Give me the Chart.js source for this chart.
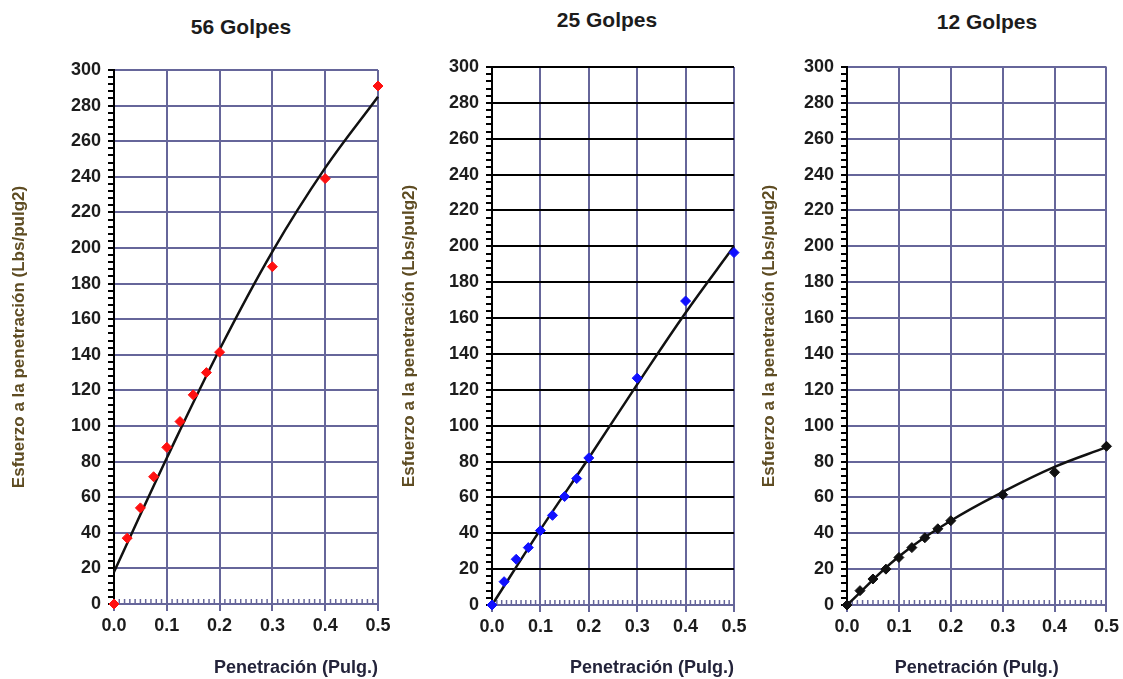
<!DOCTYPE html>
<html>
<head>
<meta charset="utf-8">
<script src="https://cdn.jsdelivr.net/npm/chart.js@4.4.1/dist/chart.umd.min.js"></script>
<style>
  body { margin:0; background:#fff; width:1123px; height:679px; position:relative; overflow:hidden; font-family:"Liberation Sans", Arial, sans-serif; }
  .box { position:absolute; top:0; height:679px; }
  .ttl { position:absolute; font-weight:bold; font-size:21px; color:#1c1c1c; transform:translate(-50%,-50%); white-space:nowrap; }
</style>
</head>
<body>
<div class="ttl" style="left:241px; top:27px;">56 Golpes</div>
<div class="ttl" style="left:607px; top:20px;">25 Golpes</div>
<div class="ttl" style="left:987px; top:22px;">12 Golpes</div>
<div class="box" style="left:0px; width:400px;"><canvas id="chart56"></canvas></div>
<div class="box" style="left:390px; width:370px;"><canvas id="chart25"></canvas></div>
<div class="box" style="left:750px; width:373px;"><canvas id="chart12"></canvas></div>
<script>
/* Data */
const xPen = [0, 0.025, 0.05, 0.075, 0.1, 0.125, 0.15, 0.175, 0.2, 0.3, 0.4, 0.5];
const golpes56 = [0, 37, 54, 71.5, 88, 102.5, 117.5, 130, 141.5, 189.5, 239, 291];
const golpes25 = [0, 13, 25.5, 32, 41.5, 50, 60.5, 70.5, 82, 126.5, 169.5, 196.5];
const golpes12 = [0, 8, 14.5, 20, 26.5, 32, 37.5, 42.5, 47, 61.5, 74, 88.5];

// trend curves, read at every 0.1
const xFit = [0, 0.1, 0.2, 0.3, 0.4, 0.5];
const fit56 = [18, 82, 143, 198, 245, 285];
const fit25 = [0, 42, 82, 123, 163, 200];
const fit12 = [0, 27, 47, 63, 77, 88];

// axis ticks
const yRange = [0, 300];
const yMajor = 20, yMinor = 4;
const xRange = [0, 0.5];
const xMajor = 0.1, xMinor = 0.01;

const xTitle = "Penetración (Pulg.)";
const yTitle = "Esfuerzo a la penetración (Lbs/pulg2)";

const SLATE = "#66669a";
const FONT = "'Liberation Sans', Arial, sans-serif";

function isMajorX(v){ return Math.round(v/xMinor) % Math.round(xMajor/xMinor) === 0; }
function isMajorY(v){ return Math.round(v) % yMajor === 0; }

/* short ticks pointing up into the plot on the x axis */
const minorXTicks = {
  id: "minorXTicks",
  beforeDatasetsDraw(chart){
    const { ctx, chartArea, scales:{ x } } = chart;
    ctx.save();
    ctx.strokeStyle = SLATE;
    ctx.lineWidth = 1.5;
    x.ticks.forEach(t => {
      if(isMajorX(t.value)) return;
      const px = x.getPixelForValue(t.value);
      ctx.beginPath();
      ctx.moveTo(px, chartArea.bottom);
      ctx.lineTo(px, chartArea.bottom - 5);
      ctx.stroke();
    });
    ctx.restore();
  }
};

function pts(xs, ys){ return xs.map((x,i) => ({ x:x, y:ys[i] })); }

function makeChart(id, o){
  const ctx = document.getElementById(id).getContext("2d");
  return new Chart(ctx, {
    type: "scatter",
    data: {
      datasets: [{
        label: "Ensayo",
        data: pts(xPen, o.values),
        pointStyle: "rectRot",
        pointRadius: 5,
        backgroundColor: o.color,
        borderColor: o.color,
        showLine: false,
        clip: false
      },{
        label: "Tendencia",
        data: pts(xFit, o.fit),
        type: "line",
        showLine: true,
        pointRadius: 0,
        borderColor: "#111",
        borderWidth: 2.5,
        tension: 0.4,
        fill: false,
        clip: false
      }]
    },
    options: {
      responsive: true,
      maintainAspectRatio: false,
      animation: false,
      layout: { padding: { left: 9, right: o.padRight, top: o.top, bottom: 0 } },
      plugins: { legend: { display:false }, tooltip: { enabled:false } },
      scales: {
        x: {
          type: "linear",
          min: xRange[0], max: xRange[1],
          afterFit: s => { s.height = o.xHeight; },
          border: { color: SLATE, width: 2 },
          grid: {
            lineWidth: 2,
            tickLength: 7,
            color: c => isMajorX(c.tick.value) ? SLATE : "rgba(0,0,0,0)",
            tickColor: c => isMajorX(c.tick.value) ? SLATE : "rgba(0,0,0,0)"
          },
          ticks: {
            stepSize: xMinor,
            autoSkip: false,
            maxTicksLimit: 200,
            maxRotation: 0,
            padding: 4,
            color: "#1c1c1c",
            font: { family: FONT, size: 18, weight: "bold" },
            callback: v => isMajorX(v) ? v.toFixed(1) : ""
          },
          title: {
            display: true,
            text: xTitle,
            align: o.xAlign,
            color: "#23233a",
            font: { family: FONT, size: 18, weight: "bold" },
            padding: { top: 0, bottom: 0 }
          }
        },
        y: {
          min: yRange[0], max: yRange[1],
          afterFit: s => { s.width = o.yWidth; },
          border: { color: "#000", width: 2 },
          grid: {
            lineWidth: 2,
            tickLength: 6,
            color: c => {
              if(!isMajorY(c.tick.value)) return "rgba(0,0,0,0)";
              if(c.tick.value === 0) return SLATE;
              return o.hGrid;
            },
            tickColor: "#000"
          },
          ticks: {
            stepSize: yMinor,
            autoSkip: false,
            maxTicksLimit: 200,
            padding: 7,
            color: "#1c1c1c",
            font: { family: FONT, size: 18, weight: "bold" },
            callback: v => isMajorY(v) ? v : ""
          },
          title: {
            display: true,
            text: yTitle,
            color: "#5e4c22",
            font: { family: FONT, size: 17, weight: "bold" },
            padding: 0
          }
        }
      }
    },
    plugins: [minorXTicks]
  });
}

makeChart("chart56", { values: golpes56, fit: fit56, color: "#ff1010", hGrid: SLATE,
  top: 70, padRight: 22, yWidth: 105, xHeight: 75, xAlign: "end" });
makeChart("chart25", { values: golpes25, fit: fit25, color: "#1010ff", hGrid: "#000",
  top: 67, padRight: 26, yWidth: 93, xHeight: 74, xAlign: "end" });
makeChart("chart12", { values: golpes12, fit: fit12, color: "#111", hGrid: SLATE,
  top: 67, padRight: 15, yWidth: 88, xHeight: 74, xAlign: "center" });
</script>
</body>
</html>
